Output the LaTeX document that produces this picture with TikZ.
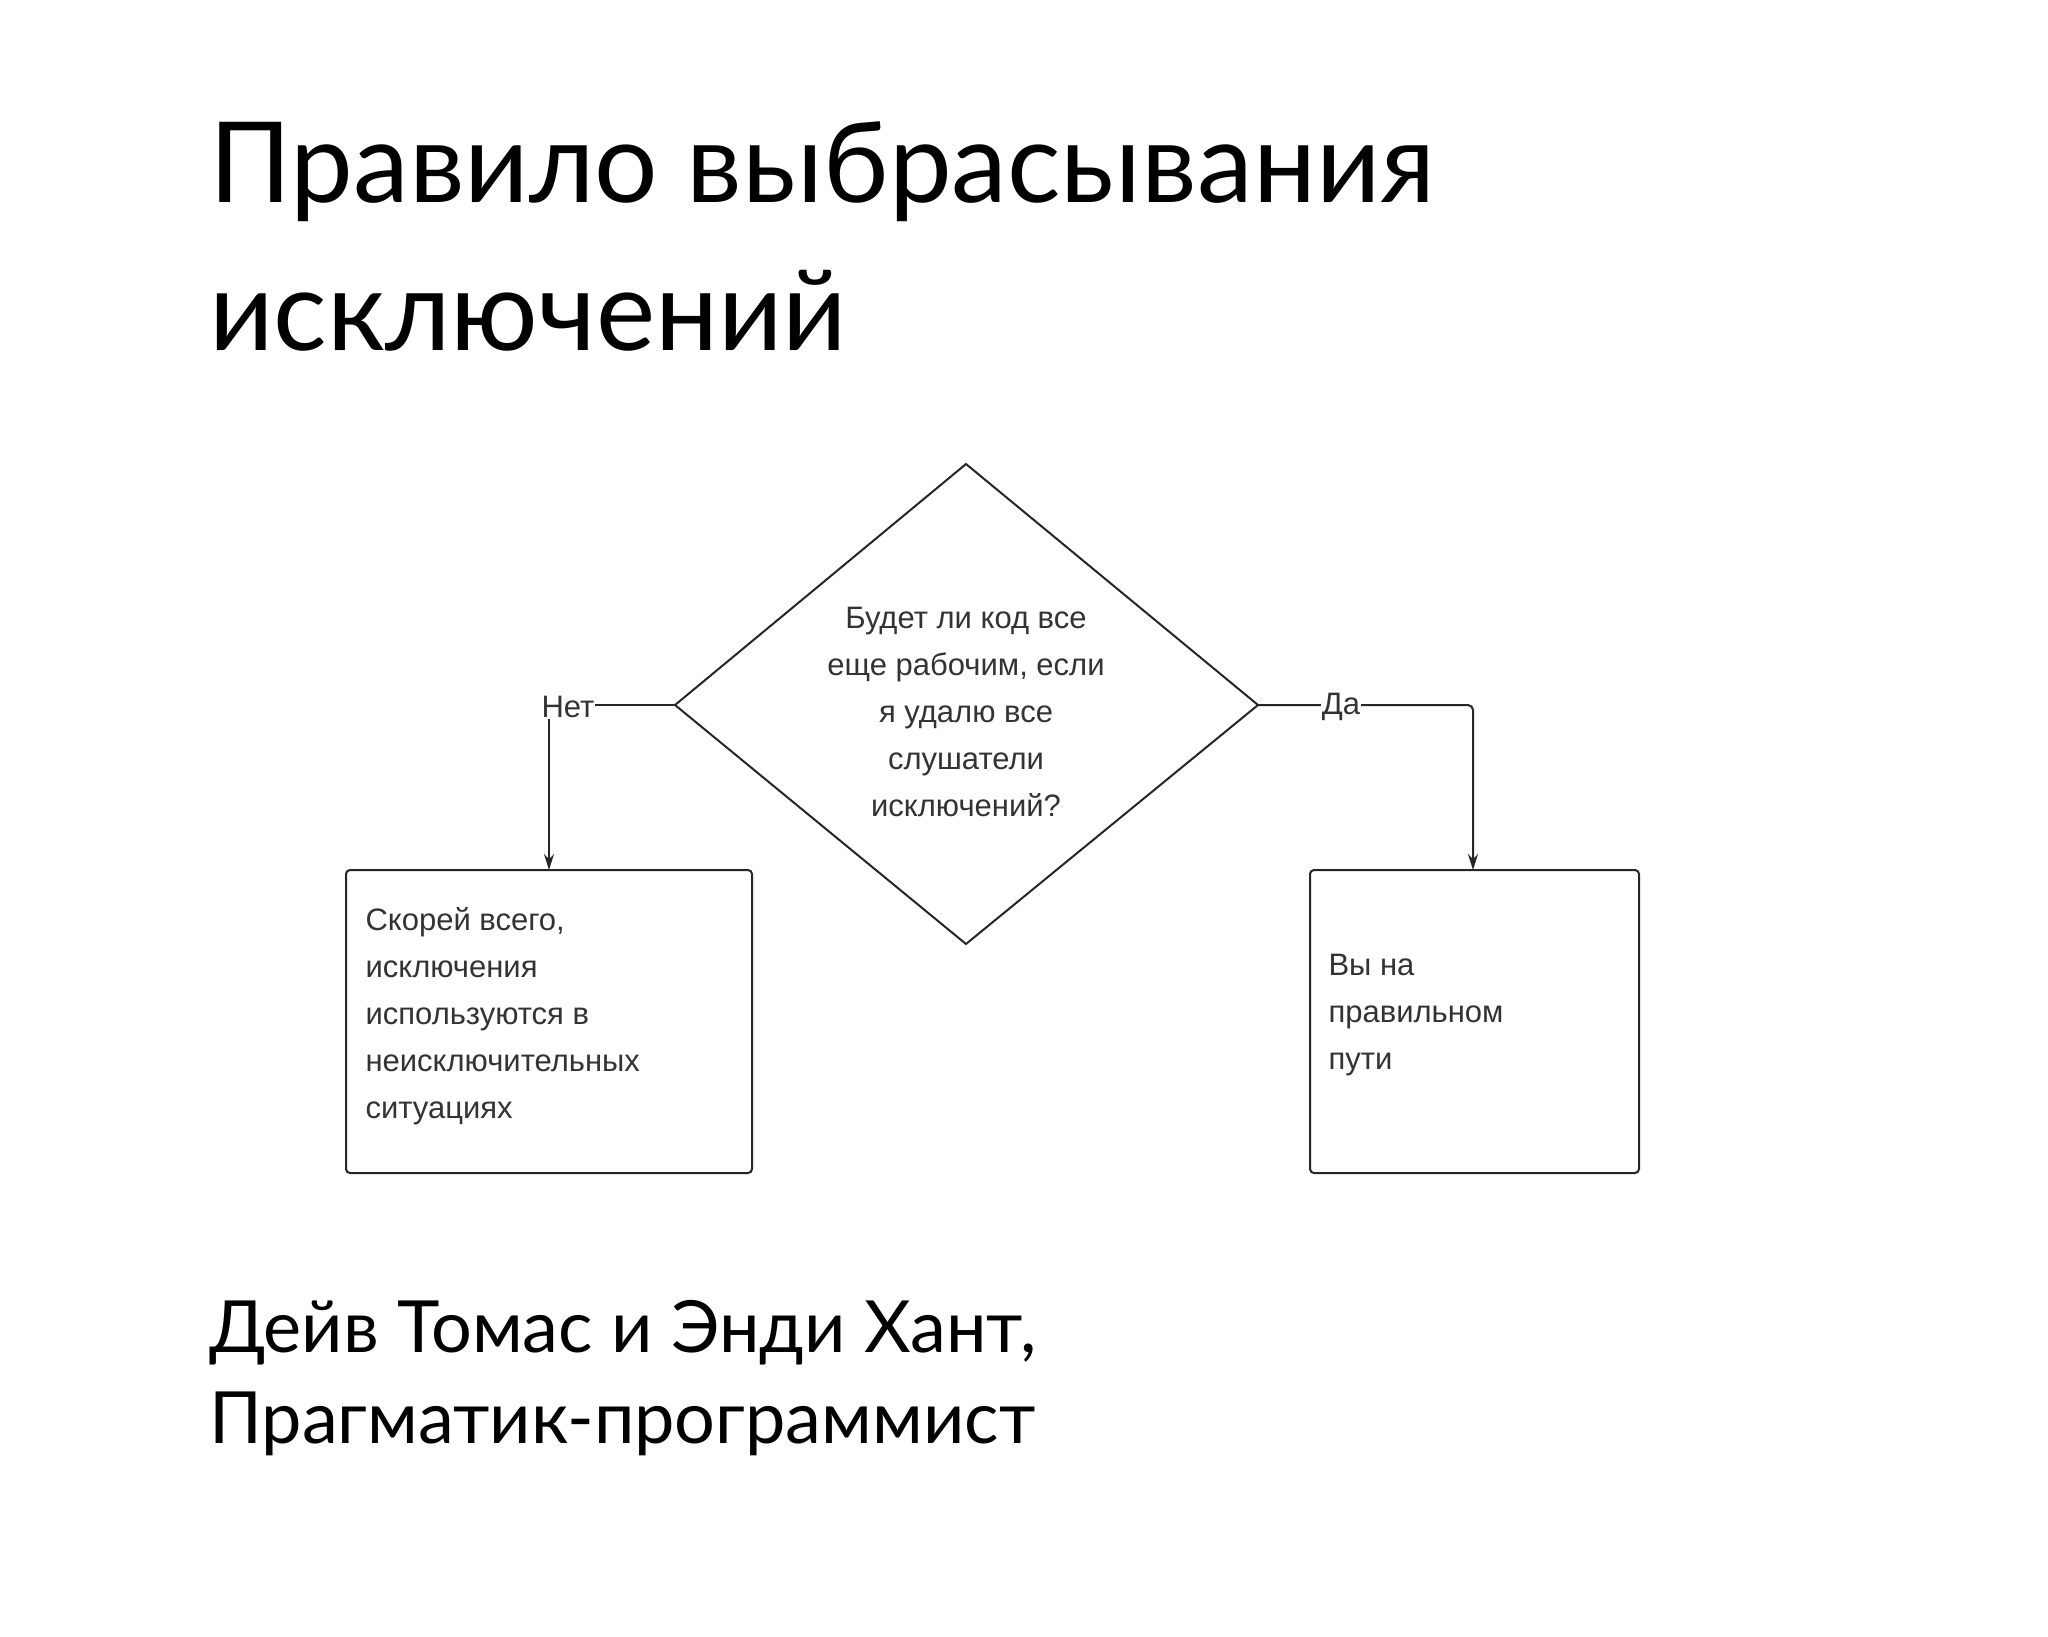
\documentclass[tikz,border=0pt]{standalone}
\usepackage{fontspec}
\setmainfont{Lato}
\newfontfamily\arialf{Liberation Sans}
\usetikzlibrary{arrows.meta}
\begin{document}
\begin{tikzpicture}[x=1pt,y=-1pt,
  ln/.style={line width=2pt,draw=black!85},
  boxst/.style={ln,rounded corners=4pt},
  dtext/.style={font=\arialf\fontsize{31}{47}\selectfont,text=black!80,align=left,anchor=west},
  arr/.style={ln,-{Stealth[length=16pt,width=10pt]}},
  lbl/.style={font=\arialf\fontsize{31}{47}\selectfont,text=black!80,fill=white,inner sep=1pt}]
\useasboundingbox (0,0) rectangle (2048,1636);
\fill[white] (0,0) rectangle (2048,1636);
\node[anchor=base west,font=\fontsize{112}{140}\selectfont,inner sep=0] (t1) at (209,202) {Правило выбрасывания};
\node[anchor=base west,font=\fontsize{112}{140}\selectfont,inner sep=0] (t2) at (209,350) {исключений};
\coordinate (dt) at (966,464);
\coordinate (dr) at (1258,705);
\coordinate (db) at (966,944);
\coordinate (dl) at (675,705);
\draw[ln] (dt)--(dr)--(db)--(dl)--cycle;
\node[font=\arialf\fontsize{31}{47}\selectfont,text=black!80,align=center] (q) at (966,712) {Будет ли код все\\еще рабочим, если\\я удалю все\\слушатели\\исключений?};
\draw[boxst] (346,870) rectangle (752,1173);
\draw[boxst] (1310,870) rectangle (1639,1173);
\node[dtext] (lt) at (362,1016) {Скорей всего,\\исключения\\используются в\\неисключительных\\ситуациях};
\node[dtext] (rt) at (1325,1015) {Вы на\\правильном\\пути};
\coordinate (lc) at (549,705);
\coordinate (rc) at (1473,705);
\coordinate (lb) at (549,870);
\coordinate (rb) at (1473,870);
\draw[arr] (dl)--(lc)--(lb);
\draw[arr,rounded corners=5pt] (dr)--(rc)--(rb);
\node[lbl] (no) at (568,707) {Нет};
\node[lbl] (yes) at (1341,707) {Да};
\node[anchor=base west,font=\fontsize{72}{90}\selectfont,inner sep=0] (a1) at (209,1352) {Дейв Томас и Энди Хант,};
\node[anchor=base west,font=\fontsize{72}{90}\selectfont,inner sep=0] (a2) at (209,1443) {Прагматик-программист};
\end{tikzpicture}
\end{document}
